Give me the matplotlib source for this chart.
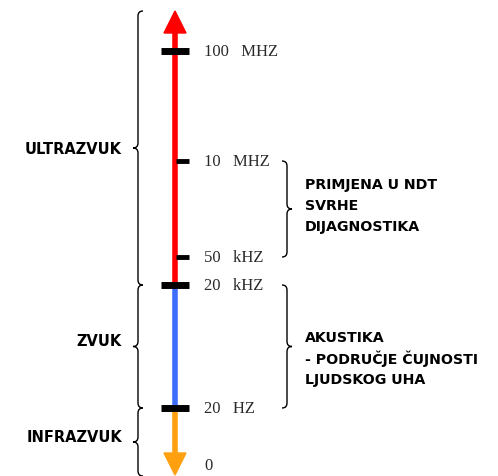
import matplotlib
matplotlib.use("Agg")
import matplotlib.pyplot as plt
from matplotlib.path import Path
from matplotlib.patches import PathPatch

# positions on the scale (figure pixel rows, top = 0)
tick_labels = ["100   MHZ", "10   MHZ", "50   kHZ", "20   kHZ", "20   HZ", "0"]
tick_pos = [52, 162, 258, 286, 409, 466]
tick_major = [True, False, False, True, True, None]

# coloured segments of the scale
seg_colors = ["#ff0000", "#3d6dff", "#ffa010"]
seg_bounds = [(30, 286), (286, 409), (409, 458)]

# left braces: label, top, bottom
left_labels = ["ULTRAZVUK", "ZVUK", "INFRAZVUK"]
left_spans = [(12, 286), (286, 409), (409, 477)]
left_text_y = [150, 342, 438]

# right braces
right_labels = [["PRIMJENA U NDT", "SVRHE", "DIJAGNOSTIKA"],
                ["AKUSTIKA", "- PODRUČJE ČUJNOSTI", "LJUDSKOG UHA"]]
right_spans = [(162, 258), (286, 409)]
right_text_y = [185, 338]

W, H = 498, 477
fig = plt.figure(figsize=(W / 100, H / 100), dpi=100)
ax = fig.add_axes([0, 0, 1, 1])
ax.set_xlim(0, W)
ax.set_ylim(H, 0)
ax.axis("off")

x0 = 175


def brace(ax, x, y1, y2, side, h=5):
    # curly brace, tip pointing to side (-1 left, +1 right)
    ym = (y1 + y2) / 2
    s = side
    verts = [(x - s * h, y1), (x, y1), (x, y1 + h),
             (x, ym - h), (x, ym), (x + s * h, ym),
             (x, ym), (x, ym + h),
             (x, y2 - h), (x, y2), (x - s * h, y2)]
    codes = [Path.MOVETO, Path.CURVE3, Path.CURVE3,
             Path.LINETO, Path.CURVE3, Path.CURVE3,
             Path.CURVE3, Path.CURVE3,
             Path.LINETO, Path.CURVE3, Path.CURVE3]
    ax.add_patch(PathPatch(Path(verts, codes), fill=False, lw=1.0,
                           ec="black"))


# coloured scale
for (ya, yb), c in zip(seg_bounds, seg_colors):
    ax.plot([x0, x0], [ya, yb], color=c, lw=4, solid_capstyle="butt",
            zorder=2)
# arrow heads
ax.fill([x0 - 11, x0 + 11, x0], [34, 34, 12], color=seg_colors[0], zorder=3)
ax.fill([x0 - 11, x0 + 11, x0], [454, 454, 476], color=seg_colors[2],
        zorder=3)

# ticks and labels
for lab, y, major in zip(tick_labels, tick_pos, tick_major):
    if major is True:
        ax.plot([x0 - 14, x0 + 14], [y, y], color="black", lw=5,
                solid_capstyle="butt", zorder=4)
    elif major is False:
        ax.plot([x0 + 1, x0 + 14], [y, y], color="black", lw=3.5,
                solid_capstyle="butt", zorder=4)
    ax.text(204, y, lab, family="Liberation Serif", fontsize=12,
            va="center", ha="left", color="#2a2a2a")

# left braces
for lab, (ya, yb), ty in zip(left_labels, left_spans, left_text_y):
    brace(ax, 138, ya, yb, -1)
    ax.text(122, ty, lab, family="DejaVu Sans",
            weight="bold", fontsize=10.5, ha="right", va="center")

# right braces
for lines, (ya, yb), ty in zip(right_labels, right_spans, right_text_y):
    brace(ax, 287, ya, yb, 1)
    for i, line in enumerate(lines):
        ax.text(305, ty + 21 * i, line, family="DejaVu Sans",
                weight="bold", fontsize=10.2, ha="left", va="center")

fig.savefig("out.png", dpi=100)
